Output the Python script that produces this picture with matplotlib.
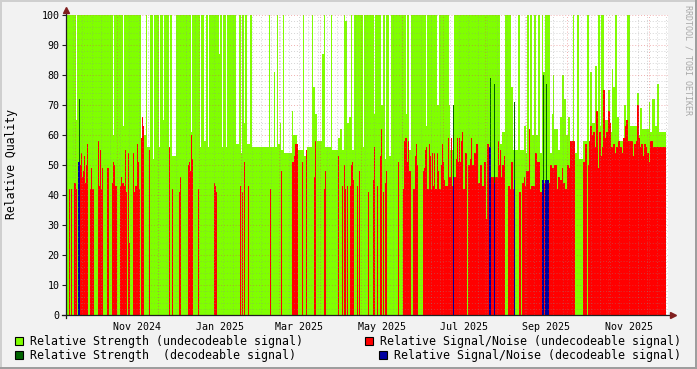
"""Relative signal quality graph, rrdtool look"""

import numpy as np
import pandas as pd
import matplotlib
matplotlib.use('Agg')
import matplotlib.pyplot as plt
import matplotlib.dates as mdates
from matplotlib.patches import Rectangle

# one consolidated sample per graph column
start = np.datetime64('2024-09-24T00:00')
step = np.timedelta64(1070, 'm')

# (number of samples, value in %)
strength_undec_runs = [
    (10, 100), (1, 65), (36, 100), (1, 60), (9, 100), (1, 63), (17, 100),
    (3, 58), (2, 60), (1, 100), (3, 56), (3, 100), (1, 52), (5, 100),
    (1, 56), (3, 100), (1, 65), (5, 100), (1, 56), (2, 100), (4, 53),
    (15, 100), (1, 61), (8, 100), (1, 56), (3, 100), (2, 58), (2, 100),
    (1, 56), (10, 100), (1, 87), (2, 100), (1, 56), (3, 100), (1, 56),
    (9, 100), (3, 57), (2, 100), (1, 54), (2, 100), (1, 64), (2, 100),
    (3, 57), (2, 100), (17, 56), (1, 100), (4, 56), (1, 81), (2, 56),
    (1, 100), (2, 57), (1, 64), (2, 55), (1, 100), (8, 54), (1, 68),
    (4, 60), (6, 55), (1, 100), (3, 53), (5, 56), (1, 100), (2, 76),
    (2, 67), (5, 58), (2, 87), (1, 100), (6, 56), (1, 100), (6, 55),
    (2, 59), (2, 62), (2, 55), (1, 100), (2, 98), (2, 64), (2, 66),
    (1, 100), (2, 55), (9, 100), (1, 56), (10, 100), (1, 67), (6, 100),
    (2, 70), (2, 100), (1, 52), (3, 100), (2, 53), (15, 100), (1, 67),
    (2, 100), (2, 55), (15, 100), (1, 63), (10, 100), (2, 70), (10, 100),
    (1, 70), (4, 55), (46, 100), (2, 57), (3, 61), (6, 100), (2, 76),
    (5, 55), (2, 100), (4, 55), (2, 63), (1, 54), (2, 100), (1, 52),
    (2, 100), (2, 60), (2, 100), (2, 60), (2, 100), (2, 54), (1, 100),
    (2, 81), (5, 100), (2, 54), (1, 67), (1, 80), (4, 62), (2, 55),
    (2, 66), (2, 80), (2, 72), (2, 60), (2, 66), (3, 58), (1, 100),
    (3, 54), (2, 100), (4, 52), (4, 58), (2, 100), (1, 56), (2, 81),
    (3, 64), (2, 83), (1, 66), (2, 100), (1, 63), (3, 100), (4, 65),
    (2, 75), (2, 61), (1, 82), (2, 76), (2, 100), (2, 66), (5, 58),
    (2, 70), (1, 65), (3, 100), (7, 63), (2, 74), (1, 60), (2, 69),
    (7, 62), (1, 71), (2, 61), (3, 72), (2, 63), (2, 77), (7, 61),
]

snr_undec_runs = [
    (3, 0), (1, 42), (1, 0), (1, 42), (2, 0), (2, 44), (1, 42), (3, 0),
    (1, 50), (1, 54), (1, 46), (1, 48), (1, 53), (1, 44), (1, 50), (1, 57),
    (2, 0), (1, 42), (1, 49), (2, 42), (4, 0), (1, 58), (1, 43), (1, 55),
    (1, 42), (1, 49), (4, 0), (2, 49), (3, 0), (1, 44), (1, 51), (1, 50),
    (2, 43), (3, 0), (1, 43), (1, 46), (2, 44), (1, 43), (1, 55), (1, 41),
    (1, 0), (1, 54), (1, 24), (3, 0), (1, 54), (1, 41), (2, 43), (1, 57),
    (1, 51), (1, 42), (1, 0), (1, 59), (1, 66), (1, 63), (5, 0), (1, 55),
    (19, 0), (1, 56), (2, 0), (1, 42), (6, 0), (1, 41), (1, 46), (7, 0),
    (1, 50), (1, 51), (1, 48), (1, 60), (1, 52), (5, 0), (1, 42), (15, 0),
    (1, 44), (1, 43), (1, 41), (23, 0), (1, 43), (1, 0), (1, 41), (1, 0),
    (1, 51), (3, 0), (1, 43), (21, 0), (1, 42), (10, 0), (1, 48), (10, 0),
    (2, 51), (1, 53), (3, 57), (4, 0), (1, 51), (3, 0), (1, 55), (7, 0),
    (1, 46), (1, 58), (8, 0), (1, 42), (1, 48), (12, 0), (1, 53), (3, 0),
    (1, 43), (1, 0), (1, 50), (1, 42), (1, 0), (1, 43), (2, 0), (1, 43),
    (1, 50), (1, 51), (1, 45), (3, 0), (1, 43), (1, 0), (1, 48), (8, 0),
    (1, 41), (4, 0), (1, 45), (1, 56), (2, 0), (1, 43), (2, 0), (1, 53),
    (1, 62), (1, 0), (1, 41), (1, 0), (1, 44), (1, 48), (11, 0), (1, 51),
    (4, 0), (1, 42), (1, 58), (2, 59), (1, 51), (1, 58), (2, 48), (2, 0),
    (2, 42), (1, 53), (1, 57), (1, 50), (5, 0), (1, 48), (1, 49), (1, 55),
    (1, 56), (2, 42), (1, 57), (1, 53), (1, 42), (1, 54), (1, 43), (1, 54),
    (2, 42), (1, 54), (1, 48), (2, 42), (1, 50), (1, 57), (1, 51), (1, 45),
    (3, 43), (1, 59), (2, 46), (1, 59), (1, 43), (1, 0), (2, 46), (1, 52),
    (1, 59), (1, 51), (1, 59), (1, 51), (1, 58), (1, 61), (2, 42), (2, 54),
    (1, 0), (2, 50), (1, 52), (1, 59), (2, 50), (2, 54), (2, 57), (2, 44),
    (2, 50), (2, 43), (2, 51), (1, 32), (2, 57), (2, 0), (3, 46), (1, 0),
    (3, 46), (1, 58), (1, 50), (1, 55), (1, 46), (2, 50), (1, 53), (3, 0),
    (2, 43), (1, 42), (2, 51), (1, 42), (5, 0), (2, 41), (1, 0), (2, 44),
    (1, 46), (1, 43), (3, 48), (1, 62), (1, 42), (4, 43), (2, 54), (3, 51),
    (2, 41), (2, 0), (1, 44), (4, 0), (1, 44), (2, 50), (2, 49), (3, 50),
    (1, 42), (2, 46), (2, 45), (1, 49), (2, 44), (2, 42), (2, 50), (1, 49),
    (5, 58), (8, 0), (2, 51), (2, 57), (1, 0), (1, 50), (1, 58), (2, 63),
    (1, 60), (2, 61), (1, 56), (2, 68), (1, 49), (2, 61), (1, 53), (1, 56),
    (2, 75), (1, 59), (2, 61), (2, 68), (1, 64), (2, 56), (2, 57), (1, 54),
    (2, 56), (2, 58), (2, 56), (1, 54), (2, 59), (1, 63), (2, 65), (5, 58),
    (1, 53), (2, 57), (1, 58), (2, 70), (1, 59), (1, 56), (2, 57), (1, 53),
    (2, 57), (1, 56), (2, 54), (1, 51), (3, 58), (13, 56),
]

strength_dec_runs = [
    (13, 0), (1, 72), (373, 0), (1, 70), (36, 0), (1, 79), (3, 0), (1, 77),
    (19, 0), (1, 71), (28, 0), (1, 80), (2, 0), (1, 77), (119, 0),
]

snr_dec_runs = [
    (12, 0), (2, 51), (373, 0), (1, 46), (35, 0), (2, 56), (3, 0), (1, 44),
    (19, 0), (1, 45), (27, 0), (2, 45), (1, 0), (4, 45), (117, 0),
]

month_labels = ['Nov 2024', 'Jan 2025', 'Mar 2025', 'May 2025',
                'Jul 2025', 'Sep 2025', 'Nov 2025']

legend_entries = [
    ('Relative Strength (undecodeable signal)', '#80FF00'),
    ('Relative Signal/Noise (undecodeable signal)', '#FF0000'),
    ('Relative Strength  (decodeable signal)', '#006400'),
    ('Relative Signal/Noise (decodeable signal)', '#0000A0'),
]

W, H = 697, 369
MONO = 'DejaVu Sans Mono'
GRID = (0.56, 0.56, 0.56, 0.38)
MGRID = (0.87, 0.31, 0.31, 0.45)
AXIS = '#1F1F1F'
ARROW = (0.5, 0.12, 0.12)


def expand(runs):
    return np.concatenate([np.full(n, v, dtype=float) for n, v in runs])


def edges_for(values):
    t = start + np.arange(len(values) + 1) * step
    return mdates.date2num(t)


def fx(x):
    return x / W


def fy(y):
    return 1 - y / H


fig = plt.figure(figsize=(W / 100, H / 100), dpi=100, facecolor='#F2F2F2')
ax = fig.add_axes([fx(66), fy(315), 602 / W, 300 / H])
ax.set_facecolor('white')

series = [
    (strength_undec_runs, '#80FF00'),
    (snr_undec_runs, '#FF0000'),
    (strength_dec_runs, '#006400'),
    (snr_dec_runs, '#0000A0'),
]
for runs, color in series:
    vals = expand(runs)
    ax.stairs(vals, edges_for(vals), fill=True, color=color, lw=0, zorder=2)

n_cols = len(expand(strength_undec_runs))
x0 = mdates.date2num(start)
x1 = mdates.date2num(start + (n_cols + 2) * step)
ax.set_xlim(x0, x1)
ax.set_ylim(0, 100)

# grid drawn over the data like rrdtool does
dash = (0, (1, 2))
for d in pd.date_range('2024-09-24', '2025-12-20', freq='W-SUN'):
    ax.axvline(mdates.date2num(d), color=GRID, lw=0.7, ls=dash, zorder=3)
for y in range(2, 100, 2):
    if y % 10:
        ax.axhline(y, color=GRID, lw=0.7, ls=dash, zorder=3)
for d in pd.date_range('2024-10-01', '2025-12-01', freq='MS'):
    ax.axvline(mdates.date2num(d), color=MGRID, lw=0.7, ls=dash, zorder=3)
for y in range(10, 101, 10):
    ax.axhline(y, color=MGRID, lw=0.7, ls=dash, zorder=3)

# month labels sit in the middle of their month
label_pos = []
for lab in month_labels:
    m0 = pd.to_datetime(lab, format='%b %Y')
    mid = m0 + pd.Timedelta(days=m0.days_in_month / 2)
    label_pos.append(mdates.date2num(mid))
ax.set_xticks(label_pos, month_labels)
ax.tick_params(axis='x', length=0, pad=5, labelsize=7.2)
ax.set_yticks(range(0, 101, 10))
ax.tick_params(axis='y', length=3, width=0.8, color=AXIS, pad=1.5,
               labelsize=7.2)
for lab in ax.get_xticklabels() + ax.get_yticklabels():
    lab.set_family(MONO)

for s in ax.spines.values():
    s.set_visible(False)
ax.plot([-0.006, 1.008], [0, 0], color=AXIS, lw=0.9,
        transform=ax.transAxes, clip_on=False, zorder=4)
ax.plot([0, 0], [-0.01, 1.012], color=AXIS, lw=0.9,
        transform=ax.transAxes, clip_on=False, zorder=4)
ax.plot([1.008], [0], marker='>', ms=4, color=ARROW,
        transform=ax.transAxes, clip_on=False, zorder=5)
ax.plot([0], [1.017], marker='^', ms=4, color=ARROW,
        transform=ax.transAxes, clip_on=False, zorder=5)

fig.text(fx(11.5), fy(164), 'Relative Quality', rotation=90, ha='center',
         va='center', fontsize=8.3, family=MONO)
fig.text(fx(688), fy(5), 'RRDTOOL / TOBI OETIKER', rotation=270,
         ha='center', va='top', fontsize=6, family=MONO, color='#A8A8A8')

# legend, two rows, right column flush right
legend_xy = [(15, 337), (365, 337), (15, 351), (379, 351)]
for (text, color), (bx, by) in zip(legend_entries, legend_xy):
    fig.add_artist(Rectangle((fx(bx), fy(by + 8)), 8 / W, 8 / H,
                             transform=fig.transFigure, facecolor=color,
                             edgecolor='black', lw=0.8))
    fig.text(fx(bx + 15), fy(by + 4), text, ha='left', va='center',
             fontsize=8.35, family=MONO)

# rrdtool frame shading
shade_a, shade_b = '#CFCFCF', '#9E9E9E'
fig.add_artist(Rectangle((0, fy(2)), 1, 2 / H, transform=fig.transFigure,
                         color=shade_a, lw=0))
fig.add_artist(Rectangle((0, 0), 2 / W, 1, transform=fig.transFigure,
                         color=shade_a, lw=0))
fig.add_artist(Rectangle((0, 0), 1, 2 / H, transform=fig.transFigure,
                         color=shade_b, lw=0))
fig.add_artist(Rectangle((fx(W - 2), 0), 2 / W, 1, transform=fig.transFigure,
                         color=shade_b, lw=0))

fig.savefig('out.png', dpi=100, facecolor=fig.get_facecolor())
